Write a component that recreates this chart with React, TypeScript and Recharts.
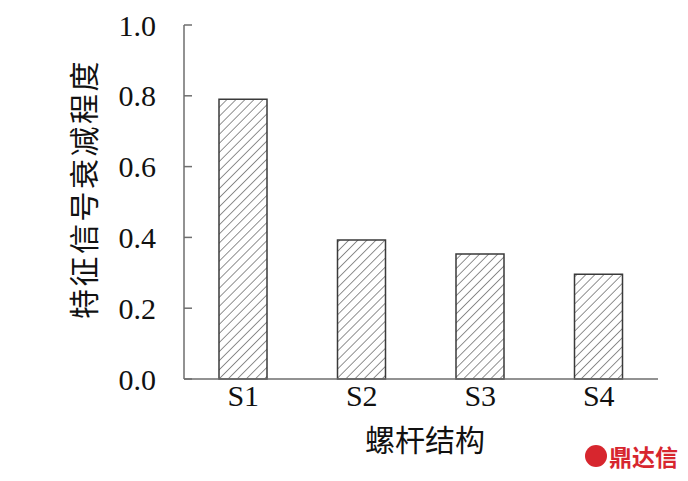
import React from 'react';
import { BarChart, Bar, XAxis, YAxis, Label } from 'recharts';

const categories = ['S1', 'S2', 'S3', 'S4'];
const values = [0.79, 0.393, 0.353, 0.296];
const yTicks = [0, 0.2, 0.4, 0.6, 0.8, 1.0];

const data = categories.map((c, i) => ({ name: c, value: values[i] }));

const serif = '"Liberation Serif", "DejaVu Serif", serif';
const cjk = '"Noto Sans CJK SC", sans-serif';

export default function App() {
  return (
    <div style={{ position: 'absolute', left: 0, top: 0, width: 688, height: 481, background: '#fff' }}>
      <BarChart width={688} height={481} data={data} margin={{ top: 25, right: 30, bottom: 0, left: 0 }}>
        <defs>
          <pattern id="hatch" patternUnits="userSpaceOnUse" width="6.4" height="6.4" patternTransform="rotate(45)">
            <line x1="0" y1="0" x2="0" y2="6.4" stroke="#222" strokeWidth="1" />
          </pattern>
        </defs>
        <XAxis
          dataKey="name"
          axisLine={{ stroke: '#6e6e6e', strokeWidth: 1.5 }}
          tickLine={false}
          tickSize={0}
          tickMargin={6}
          tick={{ fill: '#111', fontSize: 30, fontFamily: serif }}
          height={102}
        >
          <Label
            content={() => (
              <text x={425} y={438} textAnchor="middle" dominantBaseline="central" fill="#111" fontSize={30} fontFamily={cjk}>
                螺杆结构
              </text>
            )}
          />
        </XAxis>
        <YAxis
          width={184}
          domain={[0, 1]}
          ticks={yTicks}
          tickFormatter={(v: number) => v.toFixed(1)}
          axisLine={{ stroke: '#6e6e6e', strokeWidth: 1.5 }}
          tickLine={{ stroke: '#6e6e6e', strokeWidth: 1.5 }}
          tickSize={-8}
          tickMargin={36}
          tick={{ fill: '#111', fontSize: 30, fontFamily: serif }}
        >
          <Label
            content={() => (
              <text
                x={0}
                y={0}
                transform="translate(82,189) rotate(-90)"
                textAnchor="middle"
                dominantBaseline="central"
                fill="#111"
                fontSize={30}
                letterSpacing={2.5}
                fontFamily={cjk}
              >
                特征信号衰减程度
              </text>
            )}
          />
        </YAxis>
        <Bar dataKey="value" barSize={48} fill="url(#hatch)" stroke="#3a3a3a" strokeWidth={1.5} isAnimationActive={false} />
      </BarChart>
      <div
        style={{
          position: 'absolute',
          left: 585,
          top: 443,
          display: 'flex',
          alignItems: 'center',
          color: '#d7262e',
          fontFamily: cjk,
          fontWeight: 700,
          fontSize: 23,
          lineHeight: '26px',
        }}
      >
        <span
          style={{
            display: 'inline-block',
            width: 22,
            height: 22,
            borderRadius: 11,
            background: '#d7262e',
            marginRight: 2,
          }}
        />
        鼎达信
      </div>
    </div>
  );
}
